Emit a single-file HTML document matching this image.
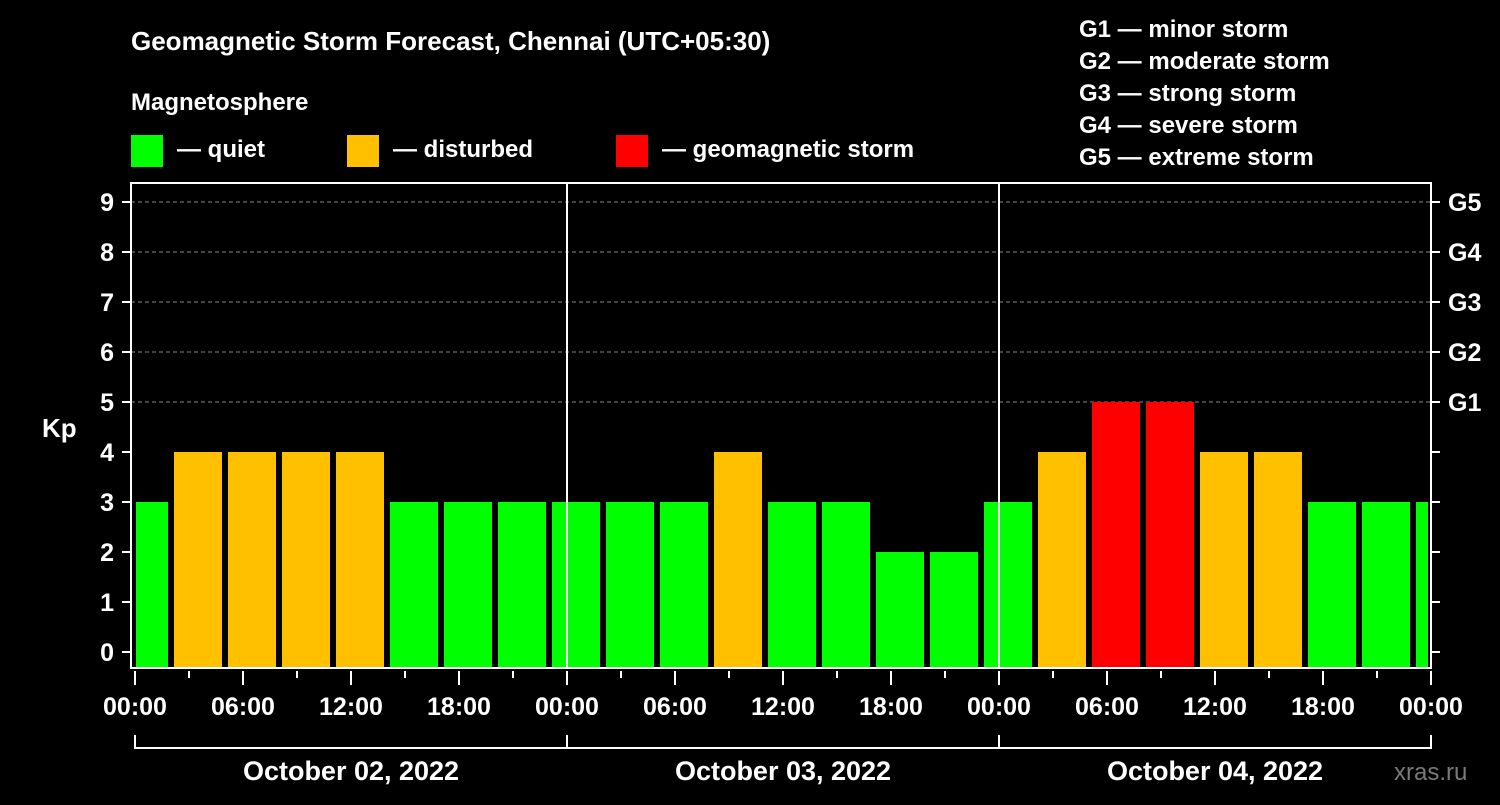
<!DOCTYPE html>
<html><head><meta charset="utf-8"><style>
body{margin:0;background:#000;width:1500px;height:800px;overflow:hidden}
svg text{font-family:"Liberation Sans",sans-serif;font-weight:bold;fill:#fff}
</style></head><body>
<svg id="chart" width="1500" height="800" xmlns="http://www.w3.org/2000/svg">
<text x="131" y="50" font-size="26">Geomagnetic Storm Forecast, Chennai (UTC+05:30)</text>
<text x="131" y="110" font-size="24">Magnetosphere</text>
<rect x="131" y="135" width="32" height="32" fill="#00ff00"/>
<text x="177" y="157" font-size="24">— quiet</text>
<rect x="347" y="135" width="32" height="32" fill="#ffc000"/>
<text x="393" y="157" font-size="24">— disturbed</text>
<rect x="616" y="135" width="32" height="32" fill="#ff0000"/>
<text x="662" y="157" font-size="24">— geomagnetic storm</text>
<g font-size="24">
<text x="1079" y="37">G1 — minor storm</text>
<text x="1079" y="69">G2 — moderate storm</text>
<text x="1079" y="101">G3 — strong storm</text>
<text x="1079" y="133">G4 — severe storm</text>
<text x="1079" y="165">G5 — extreme storm</text>
</g>
<text x="42" y="437" font-size="26">Kp</text>
<g id="grid"></g><g id="bars"></g><g id="axes"></g>
<text x="1394" y="780" font-size="24" fill="#888" style="fill:#7a7a7a;font-weight:normal">xras.ru</text>
</svg>
<script>
const kpValues=[3,4,4,4,4,3,3,3,3,3,3,4,3,3,2,2,3,4,5,5,4,4,3,3,3];
const xTickLabels=["00:00","06:00","12:00","18:00","00:00","06:00","12:00","18:00","00:00","06:00","12:00","18:00","00:00"];
const dayLabels=["October 02, 2022","October 03, 2022","October 04, 2022"];
const gLabels=["G1","G2","G3","G4","G5"];
const ns="http://www.w3.org/2000/svg";
const X0=135,PXH=18,Y0=652,PXK=50,BOT=667,TOP=183,XEND=1431;
const xs=h=>X0+h*PXH, ys=k=>Y0-k*PXK;
function mk(tag,attrs,parent){const e=document.createElementNS(ns,tag);for(const k in attrs)e.setAttribute(k,attrs[k]);parent.appendChild(e);return e;}
const grid=document.getElementById('grid'),bars=document.getElementById('bars'),axes=document.getElementById('axes');
for(let k=5;k<=9;k++){const l=mk('line',{x1:131,x2:XEND,y1:ys(k),y2:ys(k),stroke:'#888','stroke-dasharray':'4,3','stroke-width':1},grid);

}
kpValues.forEach((v,i)=>{let s=-1+3*i,e=s+3;let x1=Math.max(xs(s)+3,X0+1),x2=Math.min(xs(e)-3,XEND-3);
const c=v>=5?'#ff0000':v>=4?'#ffc000':'#00ff00';
const r=mk('rect',{x:x1,y:ys(v),width:x2-x1,height:BOT-ys(v),fill:c},bars);

});
[1,2].forEach(d=>{const l=mk('line',{x1:xs(24*d),x2:xs(24*d),y1:TOP,y2:BOT,stroke:'#fff','stroke-width':2},axes);

});
mk('rect',{x:131,y:TOP,width:XEND-131,height:BOT+1-TOP,fill:'none',stroke:'#fff','stroke-width':2},axes);
for(let k=0;k<=9;k++){mk('line',{x1:122,x2:131,y1:ys(k),y2:ys(k),stroke:'#fff','stroke-width':2},axes);
mk('line',{x1:XEND,x2:XEND+9,y1:ys(k),y2:ys(k),stroke:'#fff','stroke-width':2},axes);
const t=mk('text',{x:114,y:ys(k)+9,'font-size':25,'text-anchor':'end'},axes);t.textContent=k;

}
gLabels.forEach((g,i)=>{const t=mk('text',{x:1448,y:ys(5+i)+9,'font-size':25},axes);t.textContent=g;

});
for(let h=0;h<=72;h+=3){const major=h%6==0;mk('line',{x1:xs(h),x2:xs(h),y1:671,y2:major?685:678,stroke:'#fff','stroke-width':2},axes);}
xTickLabels.forEach((s,i)=>{const t=mk('text',{x:xs(6*i),y:715,'font-size':25,'text-anchor':'middle'},axes);t.textContent=s;

});
mk('line',{x1:X0,x2:XEND,y1:748,y2:748,stroke:'#fff','stroke-width':2},axes);
for(let d=0;d<=3;d++)mk('line',{x1:xs(24*d),x2:xs(24*d),y1:735,y2:749,stroke:'#fff','stroke-width':2},axes);
dayLabels.forEach((s,i)=>{const t=mk('text',{x:xs(24*i+12),y:780,'font-size':27,'text-anchor':'middle'},axes);t.textContent=s;

});
</script>
</body></html>
